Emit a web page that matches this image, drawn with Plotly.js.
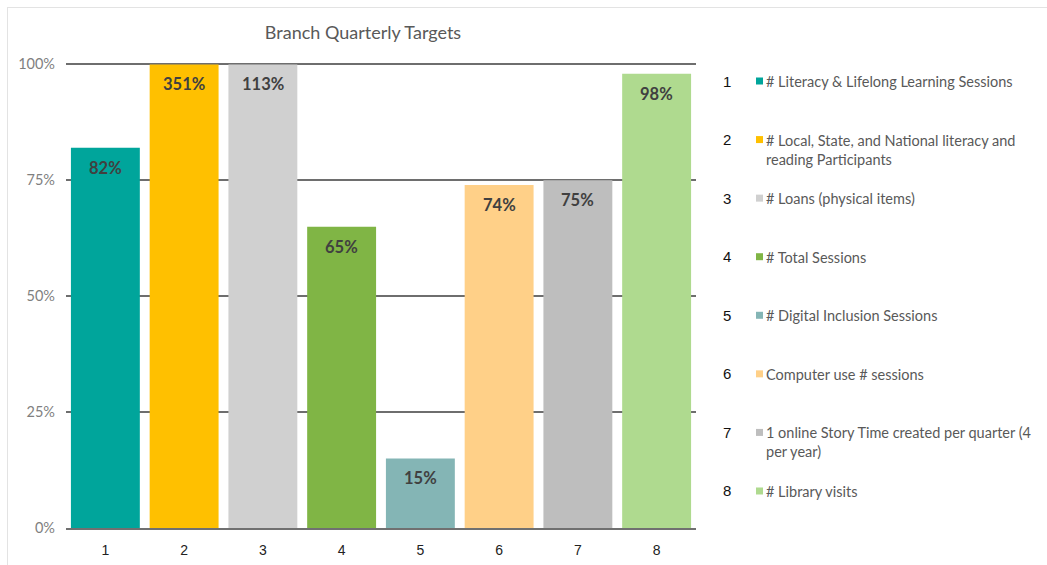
<!DOCTYPE html>
<html>
<head>
<meta charset="utf-8">
<script src="https://cdn.plot.ly/plotly-3.0.1.min.js"></script>
<style>
  html, body { margin: 0; padding: 0; background: #ffffff; }
  #frame { position: absolute; left: 7px; top: 7px; width: 1040px; height: 558px;
           border-top: 1px solid #e3e3e3; border-left: 1px solid #e3e3e3; pointer-events: none; z-index: 5; }
  #chart { width: 1047px; height: 565px; }
</style>
</head>
<body>
<div id="frame"></div>
<div id="chart"></div>
<script>
// ---- data ----
const categories = ['1', '2', '3', '4', '5', '6', '7', '8'];
const values = [82, 351, 113, 65, 15, 74, 75, 98];          // % of target
const labels = ['82%', '351%', '113%', '65%', '15%', '74%', '75%', '98%'];
const legendNames = [
  '# Literacy & Lifelong Learning Sessions',
  '# Local, State, and National literacy and<br>reading Participants',
  '# Loans (physical items)',
  '# Total Sessions',
  '# Digital Inclusion Sessions',
  'Computer use # sessions',
  '1 online Story Time created per quarter (4<br>per year)',
  '# Library visits'
];
const colors = ['#00A59B', '#FFC000', '#D0D0D0', '#80B545', '#84B5B5', '#FFD088', '#BEBEBE', '#AFDA8F'];
const yTickVals = [0, 25, 50, 75, 100];
const yTickText = ['0%', '25%', '50%', '75%', '100%'];
const AXIS_MAX = 100;

// ---- layout constants ----
const W = 1047, H = 565;
const M = { l: 66, r: 351, t: 63, b: 37 };
const pw = W - M.l - M.r, ph = H - M.t - M.b;
const px2x = px => (px - M.l) / pw;
const px2y = py => (H - M.b - py) / ph;

const shown = values.map(v => Math.min(v, AXIS_MAX));

const trace = {
  type: 'bar',
  x: categories,
  y: shown,
  marker: { color: colors, line: { width: 0 } },
  hoverinfo: 'skip',
  showlegend: false
};

const annotations = [];
const shapes = [];

// bar value labels (x given as category index)
categories.forEach((c, i) => {
  annotations.push({
    xref: 'x', yref: 'y', x: i, y: shown[i], yshift: -20,
    text: '<b>' + labels[i] + '</b>', showarrow: false,
    font: { family: 'Lato, "Open Sans", sans-serif', size: 16.5, color: '#404040' },
    xanchor: 'center', yanchor: 'middle'
  });
});

// custom legend on the right
const legTop = 81, legStep = 58.57;
legendNames.forEach((name, i) => {
  const cy = legTop + i * legStep;
  annotations.push({
    xref: 'paper', yref: 'paper', x: px2x(727), y: px2y(cy),
    text: String(i + 1), showarrow: false,
    font: { family: '"Liberation Sans", Arial, sans-serif', size: 15, color: '#111111' },
    xanchor: 'center', yanchor: 'middle'
  });
  shapes.push({
    type: 'rect', xref: 'paper', yref: 'paper',
    x0: px2x(756), x1: px2x(763), y0: px2y(cy + 3.5), y1: px2y(cy - 3.5),
    fillcolor: colors[i], line: { width: 0 }
  });
  annotations.push({
    xref: 'paper', yref: 'paper', x: px2x(764), y: px2y(cy - 10),
    text: name, showarrow: false, align: 'left',
    font: { family: 'Lato, "Open Sans", sans-serif', size: 14.5, color: '#595959' },
    xanchor: 'left', yanchor: 'top'
  });
});

const layout = {
  width: W, height: H,
  margin: M,
  paper_bgcolor: '#ffffff', plot_bgcolor: '#ffffff',
  bargap: 0.125,
  title: {
    text: 'Branch Quarterly Targets',
    x: 363 / W, xref: 'container', xanchor: 'center',
    y: 1 - 33 / H, yref: 'container', yanchor: 'middle',
    font: { family: 'Lato, "Open Sans", sans-serif', size: 18, color: '#595959' }
  },
  xaxis: {
    type: 'category',
    range: [-0.5, categories.length - 0.5],
    showgrid: false, zeroline: false,
    showline: true, linecolor: '#707070', linewidth: 2,
    ticks: '', ticklabelstandoff: 8,
    tickfont: { family: '"Liberation Sans", Arial, sans-serif', size: 14, color: '#222222' },
    fixedrange: true
  },
  yaxis: {
    range: [0, AXIS_MAX + 0.3],
    tickvals: yTickVals, ticktext: yTickText,
    showgrid: true, gridcolor: '#6e6e6e', gridwidth: 2,
    zeroline: false, showline: false, ticks: '',
    ticklabelstandoff: 10,
    tickfont: { family: 'Lato, "Open Sans", sans-serif', size: 14.5, color: '#7f7f7f' },
    fixedrange: true
  },
  annotations: annotations,
  shapes: shapes,
  showlegend: false
};

Plotly.newPlot('chart', [trace], layout, { staticPlot: true, displayModeBar: false });
</script>
</body>
</html>
